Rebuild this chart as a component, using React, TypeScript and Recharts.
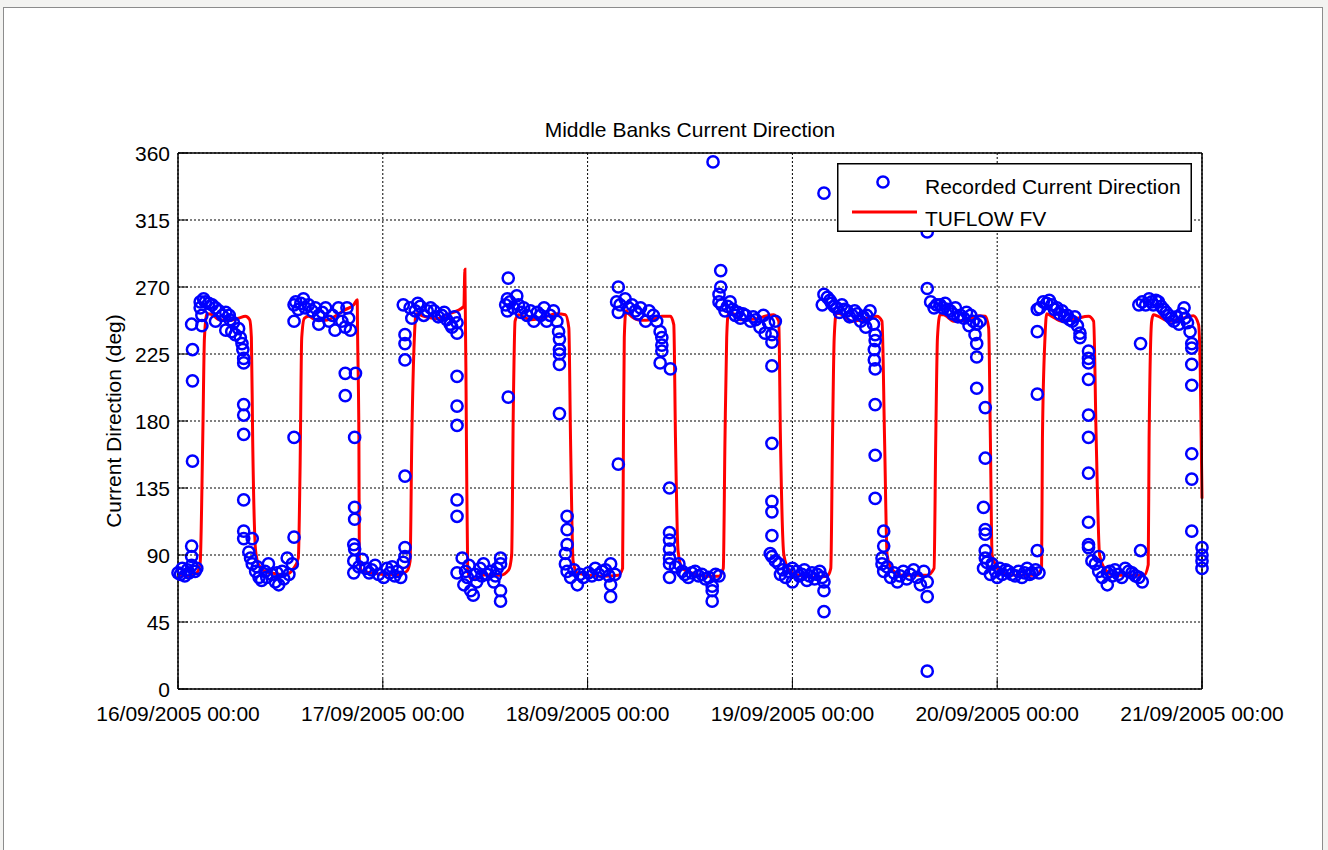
import React from "react";
import { ComposedChart, Scatter, Line, XAxis, YAxis, CartesianGrid, Legend } from "recharts";

const FONT = "'Liberation Sans', Arial, Helvetica, sans-serif";
const FONT_SIZE = 21;
const TICK_LEN = 10;

// x axis = hours since 16/09/2005 00:00
const dayTicks = [0, 24, 48, 72, 96, 120];
const dayLabels = [
  "16/09/2005 00:00",
  "17/09/2005 00:00",
  "18/09/2005 00:00",
  "19/09/2005 00:00",
  "20/09/2005 00:00",
  "21/09/2005 00:00",
];
const dirTicks = [0, 45, 90, 135, 180, 225, 270, 315, 360];

// Recorded Current Direction, [hour, deg]
const recorded16 = [
  [0, 78], [0.3, 77], [0.5, 81], [0.8, 76], [1.1, 80], [1.3, 78], [1.6, 83], [1.6, 89], [1.6, 96], [2.0, 79], [2.2, 81],
  [1.7, 153], [1.7, 207], [1.7, 228], [1.6, 245],
  [2.6, 260], [2.6, 256], [2.8, 251], [2.8, 244], [3.0, 262], [3.2, 260], [3.6, 259], [4.0, 258], [4.4, 256], [4.4, 247],
  [4.8, 254], [5.2, 251], [5.6, 241], [5.6, 253], [6.0, 251], [6.1, 248], [6.3, 240], [6.5, 246], [6.7, 238], [7.1, 242],
  [7.3, 236], [7.5, 232], [7.6, 228], [7.7, 222], [7.7, 219],
  [7.7, 191], [7.7, 184], [7.7, 171], [7.7, 127], [7.7, 106], [7.7, 101], [8.7, 101], [8.3, 92],
  [8.5, 88], [8.7, 84], [9.1, 79], [9.3, 82], [9.5, 75], [9.8, 73], [10.2, 79], [10.4, 75], [10.6, 84], [11.0, 77],
  [11.4, 72], [11.6, 78], [11.8, 70], [12.2, 79], [12.4, 74], [12.8, 88], [13.0, 77], [13.4, 84],
  [13.6, 102], [13.6, 169],
  [13.6, 258], [13.6, 247], [13.8, 260], [14.1, 255], [14.4, 259], [14.7, 262], [14.9, 256], [15.3, 258], [15.7, 254],
  [16.1, 256], [16.5, 251], [16.5, 245], [16.9, 253], [17.3, 256], [17.7, 247], [18.1, 251], [18.4, 241], [18.8, 256],
  [19.2, 247], [19.6, 243], [19.8, 256], [20.0, 249], [20.2, 241],
  [19.6, 212], [20.8, 212], [19.6, 197], [20.7, 169], [20.7, 122], [20.7, 114], [20.6, 97], [20.7, 94], [20.6, 86], [20.6, 78],
  [21.2, 82], [21.6, 87], [22.0, 81], [22.4, 78], [22.7, 80], [23.1, 83], [23.5, 77],
];

const recorded17 = [
  [24.1, 75], [24.5, 81], [24.8, 78], [25.1, 82], [25.4, 76], [25.7, 79], [26.1, 75], [26.4, 85], [26.6, 89], [26.6, 95],
  [26.6, 143], [26.6, 221], [26.6, 232], [26.6, 238], [26.4, 258],
  [27.2, 256], [27.4, 249], [27.8, 254], [28.1, 259], [28.4, 257], [28.8, 251], [29.2, 254], [29.6, 256], [30.0, 254],
  [30.5, 250], [30.9, 251], [31.2, 253], [31.5, 248], [31.9, 245], [32.1, 243], [32.4, 250], [32.7, 246], [32.7, 239],
  [32.7, 210], [32.7, 190], [32.7, 177], [32.7, 127], [32.7, 116],
  [32.7, 78], [33.3, 88], [33.5, 70], [33.7, 79], [33.9, 75], [34.1, 83], [34.3, 66], [34.6, 63], [34.8, 77], [35.0, 72],
  [35.4, 81], [35.6, 76], [35.8, 84], [36.2, 77], [36.6, 79], [37.0, 72], [37.2, 76], [37.4, 81], [37.8, 88], [37.8, 84],
  [37.8, 66], [37.8, 59],
  [38.7, 196], [38.7, 276], [38.6, 262], [38.4, 258], [38.6, 254],
  [38.9, 260], [39.3, 256], [39.7, 264], [39.9, 258], [40.2, 253], [40.5, 256], [40.9, 251], [41.3, 254], [41.7, 247],
  [42.1, 253], [42.5, 251], [42.9, 256], [43.2, 247], [43.6, 251], [44.0, 254], [44.4, 247], [44.6, 240], [44.7, 235],
  [44.7, 228], [44.7, 225], [44.7, 218], [44.7, 185],
  [45.6, 116], [45.6, 107], [45.6, 97], [45.4, 91], [45.4, 84], [45.6, 79], [46.0, 75], [46.4, 80], [46.8, 70], [47.1, 77],
  [47.5, 75],
];

const recorded18 = [
  [48.1, 78], [48.5, 76], [48.9, 81], [49.3, 77], [49.7, 79], [50.1, 80], [50.5, 76], [50.7, 70], [50.7, 62], [50.7, 84],
  [51.2, 77],
  [51.6, 151], [51.6, 270], [51.4, 260], [51.6, 253], [51.8, 258],
  [52.4, 262], [52.8, 256], [53.2, 258], [53.6, 254], [53.9, 252], [54.2, 256], [54.8, 247], [55.2, 254], [55.7, 251],
  [56.1, 247], [56.5, 240], [56.7, 236], [56.7, 231], [56.7, 227], [56.5, 219], [57.7, 215],
  [57.6, 135], [57.6, 105], [57.6, 100], [57.6, 94], [57.6, 88], [57.6, 84], [57.6, 75],
  [58.3, 82], [58.7, 84], [59.1, 79], [59.4, 77], [59.8, 75], [60.2, 78], [60.6, 79], [61.0, 76], [61.4, 77], [61.8, 74],
  [62.2, 75], [62.6, 69], [62.6, 66], [62.6, 59], [63.0, 77], [63.4, 76],
  [62.7, 354], [63.6, 281], [63.6, 270], [63.4, 265], [63.4, 260],
  [63.7, 258], [64.1, 254], [64.4, 257], [64.7, 260], [65.0, 255], [65.3, 251], [65.6, 253], [65.9, 249], [66.2, 252],
  [66.5, 251], [67.1, 247], [67.4, 250], [67.7, 248], [68.2, 243], [68.6, 251], [68.8, 239], [69.2, 246], [69.6, 238],
  [69.6, 233], [70.0, 247], [69.6, 217],
  [69.6, 165], [69.6, 126], [69.6, 119], [69.6, 103], [69.4, 91], [69.6, 89], [70.0, 86], [70.4, 84], [70.6, 77],
  [70.9, 80], [71.2, 75], [71.6, 79],
];

const recorded19 = [
  [72.0, 72], [72.0, 81], [72.5, 79], [72.8, 76], [73.1, 77], [73.4, 80], [73.7, 73], [74.0, 76], [74.3, 78], [74.6, 74],
  [74.9, 77], [75.2, 79], [75.5, 75], [75.7, 72], [75.7, 66], [75.7, 52],
  [75.7, 333], [75.7, 265], [75.5, 258],
  [76.1, 263], [76.4, 261], [76.6, 259], [76.9, 257], [77.2, 256], [77.5, 253], [77.8, 258], [78.1, 255], [78.4, 254],
  [78.7, 250], [79.0, 251], [79.3, 254], [79.6, 252], [80.0, 247], [80.3, 250], [80.6, 243], [80.7, 251], [81.1, 254],
  [81.5, 245], [81.7, 238], [81.7, 234], [81.6, 228], [81.6, 221], [81.7, 215],
  [81.7, 191], [81.7, 157], [81.7, 128], [82.7, 106], [82.7, 96], [82.5, 88], [82.5, 84], [82.7, 79],
  [83.1, 82], [83.5, 75], [83.9, 78], [84.3, 72], [84.6, 76], [85.0, 79], [85.4, 74], [85.8, 77], [86.2, 80], [86.6, 75],
  [87.0, 70], [87.4, 79], [87.8, 72], [87.8, 62], [87.8, 12],
  [87.8, 269], [87.8, 307],
  [88.2, 260], [88.6, 256], [88.9, 258], [89.3, 258], [89.6, 256], [89.9, 259], [90.2, 255], [90.5, 254], [90.8, 252],
  [91.1, 256], [91.4, 250], [91.7, 251], [92.1, 249], [92.4, 253], [92.7, 244], [92.9, 251], [93.2, 247], [93.4, 238],
  [93.6, 232], [93.6, 223], [93.6, 245], [94.0, 247],
  [93.6, 202], [94.6, 189], [94.6, 155], [94.4, 122], [94.6, 107], [94.6, 104], [94.6, 93], [94.6, 88], [94.4, 81],
  [94.8, 85], [95.2, 77],
];

const recorded20 = [
  [95.4, 84], [95.8, 79], [96.0, 75], [96.3, 81], [96.6, 77], [97.0, 80], [97.3, 79], [97.7, 77], [98.1, 76], [98.5, 79],
  [98.9, 75], [99.2, 78], [99.5, 81], [99.8, 77], [100.1, 78], [100.5, 80], [100.9, 78], [100.7, 93],
  [100.7, 198], [100.7, 240], [100.7, 255],
  [101.0, 256], [101.4, 260], [101.8, 259], [102.1, 261], [102.4, 258], [102.7, 255], [103.0, 256], [103.3, 252],
  [103.6, 254], [103.9, 250], [104.2, 251], [104.5, 248], [104.8, 247], [105.1, 250], [105.4, 244], [105.7, 239],
  [105.7, 236], [106.7, 227], [106.7, 222], [106.7, 219], [106.7, 208],
  [106.7, 184], [106.7, 169], [106.7, 145], [106.7, 112], [106.7, 97], [106.7, 95], [107.1, 86], [107.5, 84], [107.9, 89],
  [107.9, 79], [108.3, 75], [108.9, 70], [108.9, 78],
  [109.2, 79], [109.5, 76], [109.8, 80], [110.2, 77], [110.6, 75], [111.0, 81], [111.4, 79], [111.8, 78], [112.2, 76],
  [112.6, 75], [113.0, 72],
  [112.8, 93], [112.8, 232], [112.6, 258],
  [113.0, 260], [113.4, 258], [113.8, 262], [114.1, 260], [114.3, 258], [114.6, 261], [114.9, 260], [115.2, 257],
  [115.5, 255], [115.8, 253], [116.1, 251], [116.4, 249], [116.7, 247], [117.0, 250], [117.3, 245], [117.6, 252],
  [117.9, 256], [118.0, 249], [118.3, 246], [118.6, 240], [118.8, 232], [118.8, 229], [118.8, 218], [118.8, 204],
  [118.8, 158], [118.8, 141], [118.8, 106], [120.0, 95], [120.0, 90], [120.0, 86], [120.0, 81],
];

// TUFLOW FV model output, [hour, deg]
const modelDays1to2 = [
  [0, 76.5], [1.2, 75.8], [2.2, 78], [2.6, 85], [2.9, 168], [3.1, 236], [3.4, 252], [4.0, 251.5], [4.8, 248],
  [5.9, 247.5], [7.1, 249], [7.9, 250.3], [8.4, 248], [8.6, 236], [8.75, 168], [9.1, 92.5], [9.45, 83.5], [10.2, 79],
  [11.4, 77.5], [12.6, 76.8], [13.55, 81], [14.1, 88], [14.3, 146], [14.5, 236], [14.8, 249], [15.3, 250.3], [16.1, 248],
  [17.3, 247.6], [18.4, 250.3], [19.6, 254.8], [20.6, 258], [21.0, 261.5], [21.05, 236], [21.2, 168], [21.25, 86],
  [21.6, 79], [22.7, 78], [24.3, 76.8], [25.7, 76.8], [26.8, 79], [27.2, 86], [27.4, 168], [27.7, 236], [27.9, 252],
  [28.8, 250.3], [30.35, 248.7], [31.5, 251.4], [33.5, 257], [33.62, 282], [33.8, 168], [33.95, 79], [34.45, 73.5],
  [35.4, 74.6], [35.8, 76.8], [37.8, 76.4], [38.75, 80], [39.1, 90], [39.3, 191], [39.5, 247], [39.9, 251.4],
  [41.3, 248], [42.5, 249], [44.4, 252], [45.4, 251.4], [45.8, 242.5], [46.0, 168], [46.3, 86], [46.8, 78],
];

const modelDays3to4 = [
  [48.3, 76.4], [49.7, 75.7], [51.6, 76.4], [52.1, 81], [52.2, 168], [52.3, 236], [52.5, 254], [52.8, 252],
  [54.2, 247.6], [55.5, 248], [56.7, 250.3], [57.7, 250.3], [58.1, 244.7], [58.3, 168], [58.6, 92.5], [59.1, 81],
  [60.2, 78], [61.8, 75.7], [63.35, 75.7], [63.9, 81], [64.1, 168], [64.3, 236], [64.5, 252.5], [65.1, 252], [65.9, 248],
  [67.65, 248.5], [68.8, 250.3], [69.8, 251.4], [70.4, 247], [70.6, 168], [71.0, 90], [71.6, 80], [72.5, 76.8],
  [74.5, 75], [76.06, 75.7], [76.5, 81], [76.7, 168], [76.9, 236], [77.15, 252.5], [77.6, 252], [79.0, 247],
  [80.75, 249], [81.9, 250.3], [82.5, 247], [82.8, 168], [83.1, 90], [83.7, 80], [85.0, 76.4], [87.8, 76.4], [88.6, 81],
  [88.8, 168], [89.0, 236], [89.3, 251.4], [89.7, 251.4], [90.9, 247], [92.5, 248], [93.8, 250.7], [94.6, 250.3],
  [95.0, 242.5], [95.2, 168], [95.4, 90],
];

const modelDay5 = [
  [95.8, 83.5], [96.6, 78], [98.1, 76.4], [100.5, 76.4], [101.2, 81], [101.3, 168], [101.6, 236], [101.8, 252],
  [102.4, 250.3], [103.6, 247], [105.2, 248.7], [106.7, 250.3], [107.3, 247], [107.6, 168], [108.0, 90], [108.7, 80],
  [109.8, 76.4], [113.2, 76.4], [113.7, 83.5], [113.8, 168], [114.1, 247], [114.3, 251.4], [114.9, 250.3], [116.1, 247],
  [117.7, 249], [119.0, 250.7], [119.6, 244.7], [119.8, 213], [120, 128],
];

const toRows = (pairs: number[][]) => pairs.map(([h, d]) => ({ h, d }));
const recordedData = toRows([...recorded16, ...recorded17, ...recorded18, ...recorded19, ...recorded20]);
const modelData = toRows([...modelDays1to2, ...modelDays3to4, ...modelDay5]);

const textStyle = { fontFamily: FONT, fontSize: FONT_SIZE, fill: "#000" };

function LeftTick({ x, y, payload }: any) {
  return (
    <g>
      <line x1={x} x2={x + TICK_LEN} y1={y} y2={y} stroke="#000" />
      <text x={x - 8} y={y + 7.5} textAnchor="end" style={textStyle}>
        {payload.value}
      </text>
    </g>
  );
}

function RightTick({ x, y }: any) {
  return <line x1={x} x2={x - TICK_LEN} y1={y} y2={y} stroke="#000" />;
}

function BottomTick({ x, y, payload }: any) {
  const label = dayLabels[dayTicks.indexOf(payload.value)];
  return (
    <g>
      <line x1={x} x2={x} y1={y} y2={y - TICK_LEN} stroke="#000" />
      <text x={x} y={y + 32} textAnchor="middle" style={textStyle}>
        {label}
      </text>
    </g>
  );
}

function TopTick({ x, y }: any) {
  return <line x1={x} x2={x} y1={y} y2={y + TICK_LEN} stroke="#000" />;
}

function OpenCircle({ cx, cy }: any) {
  return <circle cx={cx} cy={cy} r={5.6} fill="none" stroke="#0000ff" strokeWidth={2.5} />;
}

function LegendBox() {
  return (
    <svg width={355} height={69} style={{ display: "block" }}>
      <rect x={0.75} y={0.75} width={353.5} height={67.5} fill="#fff" stroke="#000" strokeWidth={1.5} />
      <circle cx={46} cy={19} r={5.6} fill="none" stroke="#0000ff" strokeWidth={2.5} />
      <line x1={15} x2={80} y1={49} y2={49} stroke="#ff0000" strokeWidth={3} />
      <text x={88} y={31} style={textStyle}>
        Recorded Current Direction
      </text>
      <text x={88} y={63} style={textStyle}>
        TUFLOW FV
      </text>
    </svg>
  );
}

const frame = { stroke: "#000", strokeWidth: 1.5 };

export default function App() {
  return (
    <div
      style={{
        position: "absolute",
        left: 0,
        top: 0,
        width: 1328,
        height: 850,
        overflow: "hidden",
        background: "#f3f3f1",
        fontFamily: FONT,
      }}
    >
      <div
        style={{
          position: "absolute",
          left: 3,
          top: 7,
          width: 1318,
          height: 870,
          background: "#fff",
          border: "1px solid #8c8c8c",
        }}
      />
      <div
        style={{
          position: "absolute",
          left: 178,
          top: 118,
          width: 1024,
          textAlign: "center",
          fontSize: FONT_SIZE,
          lineHeight: "23px",
          color: "#000",
        }}
      >
        Middle Banks Current Direction
      </div>
      <div
        style={{
          position: "absolute",
          left: 114 - 200,
          top: 421 - 12,
          width: 400,
          height: 24,
          lineHeight: "24px",
          textAlign: "center",
          fontSize: FONT_SIZE,
          color: "#000",
          transform: "rotate(-90deg)",
        }}
      >
        Current Direction (deg)
      </div>
      <div style={{ position: "absolute", left: 0, top: 0 }}>
        <ComposedChart width={1328} height={850} margin={{ top: 133, right: 106, bottom: 121, left: 118 }}>
          <CartesianGrid stroke="#000" strokeDasharray="2 2" strokeWidth={1} />
          <XAxis
            dataKey="h"
            type="number"
            domain={[0, 120]}
            ticks={dayTicks}
            height={40}
            tickSize={0}
            tickMargin={0}
            tickLine={false}
            axisLine={frame}
            tick={BottomTick}
            interval={0}
          />
          <XAxis
            xAxisId="top"
            orientation="top"
            dataKey="h"
            type="number"
            domain={[0, 120]}
            ticks={dayTicks}
            height={20}
            tickSize={0}
            tickMargin={0}
            tickLine={false}
            axisLine={frame}
            tick={TopTick}
            interval={0}
          />
          <YAxis
            dataKey="d"
            type="number"
            domain={[0, 360]}
            ticks={dirTicks}
            width={60}
            tickSize={0}
            tickMargin={0}
            tickLine={false}
            axisLine={frame}
            tick={LeftTick}
            interval={0}
          />
          <YAxis
            yAxisId="right"
            orientation="right"
            dataKey="d"
            type="number"
            domain={[0, 360]}
            ticks={dirTicks}
            width={20}
            tickSize={0}
            tickMargin={0}
            tickLine={false}
            axisLine={frame}
            tick={RightTick}
            interval={0}
          />
          <Scatter
            name="Recorded Current Direction"
            data={recordedData}
            dataKey="d"
            shape={OpenCircle}
            isAnimationActive={false}
          />
          <Line
            name="TUFLOW FV"
            data={modelData}
            dataKey="d"
            type="monotone"
            stroke="#ff0000"
            strokeWidth={3}
            dot={false}
            activeDot={false}
            isAnimationActive={false}
          />
          <Legend
            layout="vertical"
            align="center"
            verticalAlign="middle"
            wrapperStyle={{ left: 837, top: 163, width: 355, height: 69 }}
            content={LegendBox}
          />
        </ComposedChart>
      </div>
    </div>
  );
}
